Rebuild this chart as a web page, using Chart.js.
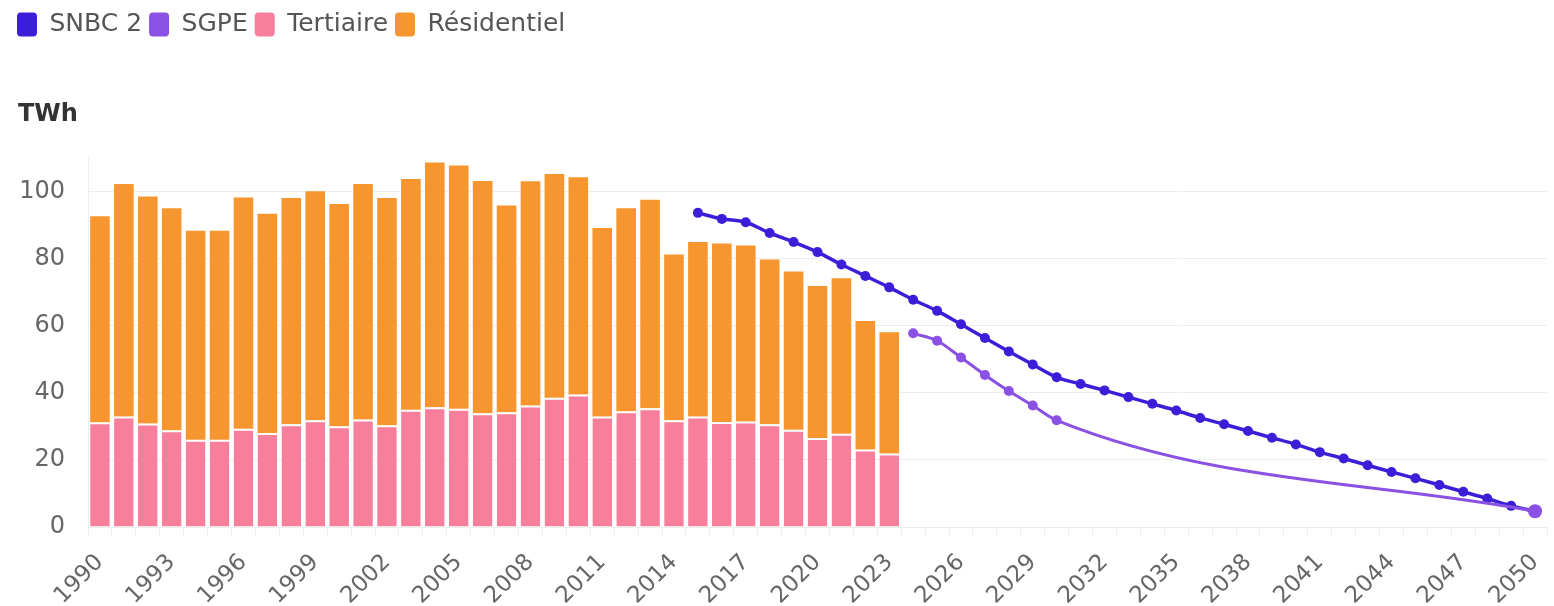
<!DOCTYPE html>
<html>
<head>
<meta charset="utf-8">
<script src="https://cdn.jsdelivr.net/npm/chart.js@4/dist/chart.umd.min.js"></script>
<style>
  html, body { margin: 0; padding: 0; background: #fff; }
  #wrap { width: 1554px; height: 606px; position: relative; }
</style>
</head>
<body>
<div id="wrap"><canvas id="chart"></canvas></div>
<script>
// years 1990 -> 2050
const years = Array.from({ length: 61 }, (_, i) => String(1990 + i));

// historical, 1990 -> 2023 (TWh)
const tertiaire = [31.2, 32.9, 30.8, 28.8, 26.0, 26.0, 29.3, 28.0, 30.6, 31.8, 30.0, 32.0, 30.3, 34.9, 35.7,
  35.2, 33.9, 34.2, 36.2, 38.5, 39.5, 32.9, 34.5, 35.4, 31.8, 32.9, 31.3, 31.4, 30.6, 29.0, 26.5, 27.8, 23.1, 21.9];
const residentiel = [61.4, 69.3, 67.7, 66.2, 62.3, 62.3, 68.9, 65.3, 67.4, 68.2, 66.2, 70.2, 67.7, 68.8, 72.9,
  72.5, 69.2, 61.6, 66.8, 66.7, 64.7, 56.2, 60.5, 62.1, 49.4, 52.0, 53.2, 52.5, 49.1, 47.1, 45.3, 46.3, 38.3, 36.1];

// SNBC 2 trajectory, 2015 -> 2050
const snbc2 = [93.6, 91.8, 90.8, 87.6, 84.9, 81.9, 78.2, 74.8, 71.4, 67.7, 64.4, 60.4, 56.3, 52.3, 48.4, 44.6,
  42.6, 40.7, 38.7, 36.7, 34.7, 32.5, 30.6, 28.6, 26.6, 24.6, 22.3, 20.4, 18.4, 16.4, 14.5, 12.5, 10.5, 8.5, 6.3, 4.7];

// SGPE trajectory, 2024 -> 2030 then 2050
const sgpe = [57.7, 55.5, 50.5, 45.3, 40.5, 36.2, 31.8,
  null, null, null, null, null, null, null, null, null, null, null, null, null, null, null, null, null, null, null,
  4.7];

const yTicks = [0, 20, 40, 60, 80, 100];

// place a series on the full year axis
const pad = (arr, startYear) => years.map(y => {
  const i = Number(y) - startYear;
  return i >= 0 && i < arr.length ? arr[i] : null;
});

const C_SNBC = '#3b1fd8';
const C_SGPE = '#8b50e4';
const C_TERT = '#f77f9c';
const C_RES = '#f7962e';

const FONT = '"DejaVu Sans", sans-serif';

// nudge the "TWh" unit label so it lines up with the axis labels
const titleNudge = {
  id: 'titleNudge',
  afterLayout(chart) {
    if (chart.titleBlock) chart.titleBlock.left += 8;
  }
};

new Chart(document.getElementById('chart'), {
  data: {
    labels: years,
    datasets: [
      {
        type: 'line', label: 'SNBC 2', data: pad(snbc2, 2015), order: 1, stack: 'snbc',
        borderColor: C_SNBC, backgroundColor: C_SNBC, borderWidth: 3.5,
        pointRadius: 5, pointBorderWidth: 0, cubicInterpolationMode: 'monotone'
      },
      {
        type: 'line', label: 'SGPE', data: pad(sgpe, 2024), order: 0, stack: 'sgpe',
        borderColor: C_SGPE, backgroundColor: C_SGPE, borderWidth: 3,
        pointRadius: ctx => (ctx.dataIndex === years.length - 1 ? 7 : 5), pointBorderWidth: 0,
        spanGaps: true, cubicInterpolationMode: 'monotone'
      },
      {
        type: 'bar', label: 'Tertiaire', data: pad(tertiaire, 1990), order: 2, stack: 'hist',
        backgroundColor: C_TERT, borderColor: 'rgba(255,255,255,0.85)', borderWidth: { top: 2 }, borderSkipped: false,
        barPercentage: 1, categoryPercentage: 0.82
      },
      {
        type: 'bar', label: 'Résidentiel', data: pad(residentiel, 1990), order: 3, stack: 'hist',
        backgroundColor: C_RES, borderWidth: 0,
        barPercentage: 1, categoryPercentage: 0.82
      }
    ]
  },
  options: {
    responsive: true,
    maintainAspectRatio: false,
    animation: false,
    layout: { padding: { top: 5, left: 10, right: 7, bottom: 0 } },
    plugins: {
      legend: {
        position: 'top', align: 'start', weight: 3000,
        labels: {
          font: { family: FONT, size: 25 }, color: '#555',
          boxWidth: 20, boxHeight: 24, padding: 7,
          useBorderRadius: true, borderRadius: 4,
          sort: (a, b) => a.datasetIndex - b.datasetIndex,
          // plain filled boxes, no white stroke from the bar borders
          generateLabels: chart => Chart.defaults.plugins.legend.labels.generateLabels(chart)
            .map(item => ({ ...item, lineWidth: 0, strokeStyle: item.fillStyle }))
        }
      },
      title: {
        display: true, text: 'TWh', align: 'start', position: 'top',
        font: { family: FONT, size: 24, weight: 'bold' }, color: '#333',
        padding: { top: 53, bottom: 29 }
      },
      tooltip: { enabled: false }
    },
    scales: {
      x: {
        stacked: true,
        grid: { display: true, drawOnChartArea: false, drawTicks: true, tickLength: 10, color: '#eeeeee' },
        border: { color: '#eeeeee' },
        ticks: {
          autoSkip: false, maxRotation: 45, minRotation: 45, padding: 12,
          font: { family: FONT, size: 23 }, color: '#666',
          callback: (v, i) => (i % 3 === 0 ? years[i] : '')
        },
        afterFit: axis => { axis.paddingLeft = 0; axis.paddingRight = 0; axis.height = 79; }
      },
      y: {
        stacked: true, min: 0, max: 110,
        afterBuildTicks: axis => { axis.ticks = yTicks.map(v => ({ value: v })); },
        afterFit: axis => { axis.width = 78; },
        grid: { color: '#eeeeee', drawTicks: false },
        border: { color: '#eeeeee' },
        ticks: { padding: 23, font: { family: FONT, size: 24 }, color: '#666' }
      }
    }
  },
  plugins: [titleNudge]
});
</script>
</body>
</html>
